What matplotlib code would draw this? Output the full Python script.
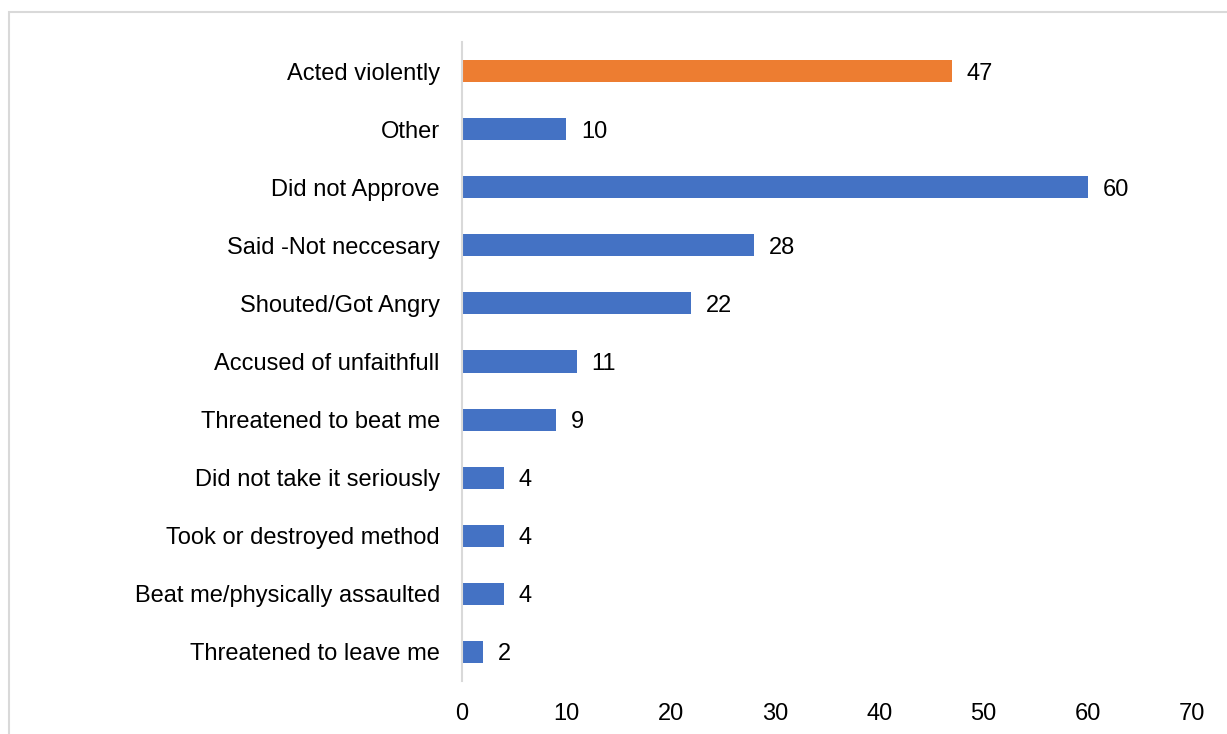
import matplotlib.pyplot as plt
from matplotlib.patches import Rectangle

plt.rcParams['font.family'] = ['Liberation Sans', 'DejaVu Sans']

labels = ["Acted violently", "Other", "Did not Approve", "Said -Not neccesary",
          "Shouted/Got Angry", "Accused of unfaithfull", "Threatened to beat me",
          "Did not take it seriously", "Took or destroyed method",
          "Beat me/physically assaulted", "Threatened to leave me"]
values = [47, 10, 60, 28, 22, 11, 9, 4, 4, 4, 2]
colors = ["#ED7D31"] + ["#4472C4"] * 10

fig = plt.figure(figsize=(12.27, 7.34), dpi=100)
fig.patches.append(Rectangle((9 / 1227, -0.01), 1.0, 1 - 12 / 734 + 0.01,
                             transform=fig.transFigure, fill=False,
                             edgecolor="#d9d9d9", linewidth=1.5))
ax = fig.add_axes([462 / 1227, 53 / 734, 730 / 1227, 639 / 734])

pos = list(range(len(labels)))
ax.barh(pos, values, height=0.38, color=colors)
for p, v in zip(pos, values):
    ax.text(v + 1.4, p, str(v), va="center_baseline", ha="left", fontsize=17)

ax.set_xlim(0, 70)
ax.set_ylim(len(labels) - 0.5, -0.5)
ax.set_xticks(range(0, 71, 10))
ax.set_yticks(pos)
ax.set_yticklabels(labels)
ax.tick_params(axis="both", length=0, labelsize=17)
ax.tick_params(axis="y", pad=16)
ax.tick_params(axis="x", pad=16)
for s in ["top", "right", "bottom"]:
    ax.spines[s].set_visible(False)
ax.spines["left"].set_color("#d9d9d9")
ax.spines["left"].set_linewidth(1.5)

fig.savefig("out.png", dpi=100)
plt.close(fig)
